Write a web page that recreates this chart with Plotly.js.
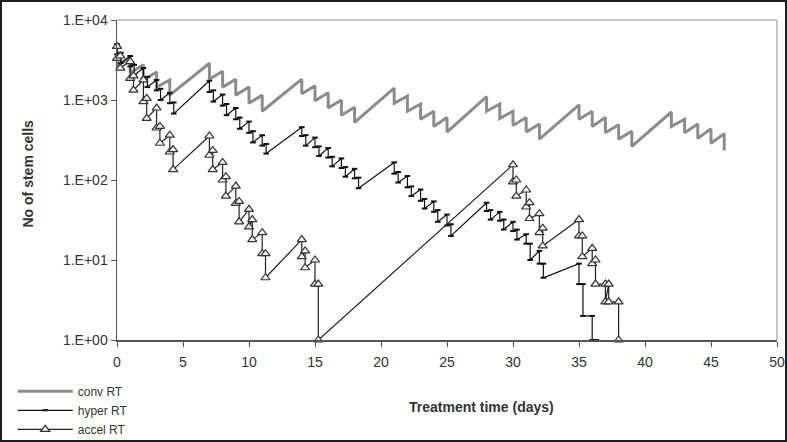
<!DOCTYPE html>
<html>
<head>
<meta charset="utf-8">
<script src="https://cdn.plot.ly/plotly-3.0.1.min.js"></script>
<style>
body { margin: 0; background: #fff; }
#frame { width: 787px; height: 442px; box-sizing: border-box; border: 2px solid #1e1e1e; }
#plot { width: 783px; height: 438px; }
</style>
</head>
<body>
<div id="frame"><div id="plot"></div></div>
<script>
// conventional RT: one fraction a day, value just before and just after each fraction
let convDays = [0, 1, 2, 3, 4, 7, 8, 9, 10, 11, 14, 15, 16, 17, 18, 21, 22, 23, 24, 25,
                28, 29, 30, 31, 32, 35, 36, 37, 38, 39, 42, 43, 44, 45, 46];
let convBefore = [4170, 3390, 2750, 2240, 1780, 2880, 2290, 1820, 1450, 1150,
                  1820, 1510, 1230, 1000, 813, 1410, 1120, 891, 724, 603,
                  1100, 891, 724, 603, 501, 871, 724, 603, 490, 407,
                  708, 575, 501, 437, 380];
let convAfter = [2690, 2190, 1780, 1450, 1150, 1820, 1450, 1150, 912, 724,
                 1200, 977, 794, 646, 525, 912, 724, 575, 468, 398,
                 724, 589, 479, 398, 324, 575, 468, 389, 324, 263,
                 468, 389, 331, 288, 234];

// hyperfractionated RT: two fractions a day
let hyperTimes = [0, 0.3, 1, 1.3, 2, 2.3, 3, 3.3, 4, 4.3,
                  7, 7.3, 8, 8.3, 9, 9.3, 10, 10.3, 11, 11.3,
                  14, 14.3, 15, 15.3, 16, 16.3, 17, 17.3, 18, 18.3,
                  21, 21.3, 22, 22.3, 23, 23.3, 24, 24.3, 25, 25.3,
                  28, 28.3, 29, 29.3, 30, 30.3, 31, 31.3, 32, 32.3,
                  35, 35.3, 36, 36.3];
let hyperBefore = [5010, 3890, 3550, 2750, 2510, 1950, 1780, 1380, 1230, 933,
                   1740, 1320, 1170, 891, 794, 603, 537, 407, 363, 282,
                   457, 363, 339, 263, 251, 195, 186, 145, 138, 107,
                   166, 126, 112, 83, 76, 58, 54, 42, 37, 28,
                   52, 42, 40, 32, 30, 24, 21, 16, 13, 9,
                   9, 5, 2, 1];
let hyperAfter = [3720, 2880, 2630, 2040, 1860, 1450, 1320, 1000, 912, 676,
                  1260, 955, 851, 646, 575, 437, 389, 295, 269, 214,
                  355, 269, 257, 200, 191, 148, 141, 110, 105, 79,
                  120, 93, 81, 63, 55, 44, 40, 30, 27, 20,
                  41, 32, 31, 24, 23, 18, 16, 10, 9, 6,
                  5, 2, 1, 1];

// accelerated RT
let accelTimes = [0, 0.25, 1, 1.25, 2, 2.25, 3, 3.25, 4, 4.25,
                  7, 7.25, 8, 8.25, 9, 9.25, 10, 10.25, 11, 11.25,
                  14, 14.25, 15, 15.25,
                  30, 30.25, 31, 31.25, 32, 32.25,
                  35, 35.25, 36, 36.25, 37, 37.25, 38];
let accelBefore = [4680, 3550, 3020, 2000, 1780, 1050, 794, 468, 363, 240,
                   355, 234, 166, 110, 84, 54, 43, 32, 22, 12,
                   18, 13, 10, 5,
                   155, 100, 75, 52, 38, 25,
                   32, 20, 14, 10, 5, 5, 3];
let accelAfter = [3310, 2510, 1860, 1330, 955, 589, 447, 288, 224, 135,
                  204, 135, 100, 63, 51, 30, 26, 18, 12, 6,
                  11, 8, 5, 1,
                  95, 63, 46, 33, 22, 15,
                  20, 11, 9, 5, 3, 3, 1];

let yTicks = [1, 10, 100, 1000, 10000];
let yTickText = ['1.E+00', '1.E+01', '1.E+02', '1.E+03', '1.E+04'];

function stepPath(times, before, after) {
    let xs = [], ys = [];
    for (let i = 0; i < times.length; i++) {
        xs.push(times[i], times[i]);
        ys.push(before[i], after[i]);
    }
    return {x: xs, y: ys};
}

let conv = stepPath(convDays, convBefore, convAfter);
let hyper = stepPath(hyperTimes, hyperBefore, hyperAfter);
let accel = stepPath(accelTimes, accelBefore, accelAfter);

let trace1 = {
    x: conv.x, y: conv.y, name: 'conv RT',
    type: 'scatter', mode: 'lines',
    line: {color: '#8c8c8c', width: 3},
    cliponaxis: false
};
let trace2 = {
    x: hyper.x, y: hyper.y, name: 'hyper RT',
    type: 'scatter', mode: 'lines+markers',
    line: {color: '#111', width: 1.2},
    marker: {symbol: 'line-ew', size: 4, line: {color: '#111', width: 2}},
    cliponaxis: false
};
let trace3 = {
    x: accel.x, y: accel.y, name: 'accel RT',
    type: 'scatter', mode: 'lines+markers',
    line: {color: '#222', width: 1.2},
    marker: {symbol: 'triangle-up', size: 8, color: '#f2f2f2', line: {color: '#333', width: 1.2}},
    cliponaxis: false
};

let font = {family: 'Liberation Sans, Arial, sans-serif', size: 14, color: '#333'};

let layout = {
    width: 783, height: 438,
    margin: {l: 115, r: 8, t: 18, b: 100, autoexpand: false},
    paper_bgcolor: '#fff', plot_bgcolor: '#fff',
    font: font,
    showlegend: true,
    legend: {
        x: -0.158, y: -0.115, xanchor: 'left', yanchor: 'top',
        font: {family: 'Liberation Sans, Arial, sans-serif', size: 12, color: '#333'},
        itemwidth: 55, tracegroupgap: 0, bgcolor: 'rgba(0,0,0,0)'
    },
    xaxis: {
        range: [0, 50], dtick: 5, tick0: 0,
        showgrid: false, zeroline: false,
        showline: true, linecolor: '#555', linewidth: 1.5,
        ticks: 'outside', ticklen: 5, tickcolor: '#555',
        ticklabelstandoff: 4
    },
    yaxis: {
        type: 'log', range: [0, 4],
        tickvals: yTicks, ticktext: yTickText,
        showgrid: false, zeroline: false,
        showline: true, linecolor: '#555', linewidth: 1.5,
        ticks: 'outside', ticklen: 5, tickcolor: '#555'
    },
    shapes: [
        {type: 'line', xref: 'paper', yref: 'paper', x0: 0, x1: 1, y0: 1, y1: 1,
         line: {color: '#b5b5b5', width: 1.5}},
        {type: 'line', xref: 'paper', yref: 'paper', x0: 1, x1: 1, y0: 0, y1: 1,
         line: {color: '#b5b5b5', width: 1.5}}
    ],
    annotations: [
        {text: '<b>Treatment time (days)</b>', xref: 'paper', yref: 'paper',
         x: 0.553, y: -0.21, xanchor: 'center', yanchor: 'middle', showarrow: false,
         font: {family: 'Liberation Sans, Arial, sans-serif', size: 14, color: '#333'}},
        {text: '<b>No of stem cells</b>', xref: 'paper', yref: 'paper', textangle: -90,
         x: -0.135, y: 0.52, xanchor: 'center', yanchor: 'middle', showarrow: false,
         font: {family: 'Liberation Sans, Arial, sans-serif', size: 14, color: '#333'}}
    ]
};

Plotly.newPlot('plot', [trace1, trace2, trace3], layout, {displayModeBar: false, staticPlot: true});
</script>
</body>
</html>
